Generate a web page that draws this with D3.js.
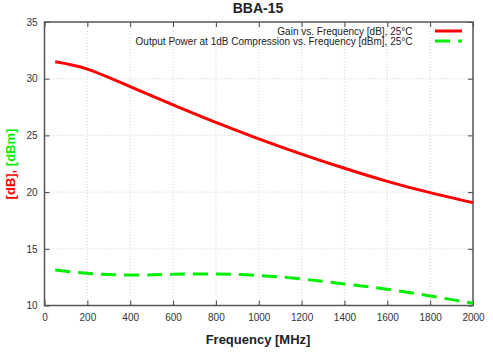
<!DOCTYPE html>
<html>
<head>
<meta charset="utf-8">
<script src="https://cdn.jsdelivr.net/npm/d3@7"></script>
<style>
  body { margin: 0; background: #fff; }
  svg { display: block; }
</style>
</head>
<body>
<div id="chart"></div>
<script>
// data
var freq = [50, 200, 400, 600, 800, 1000, 1200, 1400, 1600, 1800, 2000];
var gain = [31.5, 30.85, 29.3, 27.7, 26.15, 24.7, 23.35, 22.1, 20.95, 19.95, 19.07];
var p1db = [13.13, 12.84, 12.68, 12.75, 12.78, 12.65, 12.34, 11.9, 11.43, 10.84, 10.2];
var xTicks = [0, 200, 400, 600, 800, 1000, 1200, 1400, 1600, 1800, 2000];
var yTicks = [10, 15, 20, 25, 30, 35];
var legendLabels = ["Gain vs. Frequency [dB], 25\u00b0C",
  "Output Power at 1dB Compression vs. Frequency [dBm], 25\u00b0C"];

var W = 493, H = 352;
var margin = { top: 22, right: 20, bottom: 46.5, left: 44.5 };
var width = W - margin.left - margin.right,
  height = H - margin.top - margin.bottom;

var svg = d3.select("#chart").append("svg")
  .attr("width", W)
  .attr("height", H)
  .style("font-family", "'Liberation Sans', Arial, sans-serif");

var g = svg.append("g")
  .attr("transform", "translate(" + margin.left + "," + margin.top + ")");

var x = d3.scaleLinear().domain([0, 2000]).range([0, width]);
var y = d3.scaleLinear().domain([10, 35]).range([height, 0]);

// grid
g.append("g").selectAll("line").data(xTicks.slice(1, -1)).enter().append("line")
  .attr("x1", d => x(d)).attr("x2", d => x(d))
  .attr("y1", 0).attr("y2", height)
  .attr("stroke", "#c8c8c8").attr("stroke-width", 0.8).attr("stroke-dasharray", "1,2");
g.append("g").selectAll("line").data(yTicks.slice(1, -1)).enter().append("line")
  .attr("y1", d => y(d)).attr("y2", d => y(d))
  .attr("x1", 0).attr("x2", width)
  .attr("stroke", "#c8c8c8").attr("stroke-width", 0.8).attr("stroke-dasharray", "1,2");

// axes, ticks pointing inward
var xAxis = d3.axisBottom(x).tickValues(xTicks).tickSize(-5).tickPadding(8)
  .tickFormat(d3.format("d"));
var yAxis = d3.axisLeft(y).tickValues(yTicks).tickSize(-5).tickPadding(7);

g.append("g").attr("transform", "translate(0," + height + ")").call(xAxis);
g.append("g").call(yAxis);
g.append("g").call(d3.axisTop(x).tickValues(xTicks).tickSize(-5).tickFormat(""));
g.append("g").attr("transform", "translate(" + width + ",0)")
  .call(d3.axisRight(y).tickValues(yTicks).tickSize(-5).tickFormat(""));

g.selectAll(".domain").remove();
g.selectAll(".tick line").attr("stroke", "#444").attr("stroke-width", 1);
g.selectAll(".tick text").attr("fill", "#333").attr("font-size", 10)
  .style("font-family", "'Liberation Sans', Arial, sans-serif");

g.append("rect")
  .attr("width", width).attr("height", height)
  .attr("fill", "none").attr("stroke", "#555").attr("stroke-width", 1.5);

// curves
var line = d3.line().curve(d3.curveNatural);

g.append("path")
  .datum(freq.map((f, i) => [x(f), y(gain[i])]))
  .attr("d", line)
  .attr("fill", "none").attr("stroke", "#ff0000").attr("stroke-width", 3);

g.append("path")
  .datum(freq.map((f, i) => [x(f), y(p1db[i])]))
  .attr("d", line)
  .attr("fill", "none").attr("stroke", "#00ee00").attr("stroke-width", 3)
  .attr("stroke-dasharray", "15,8");

// legend
var leg = g.append("g");
legendLabels.forEach(function (t, i) {
  var ly = 9 + i * 10;
  leg.append("text")
    .attr("x", 368).attr("y", ly + 3.5)
    .attr("text-anchor", "end").attr("font-size", 10).attr("fill", "#222")
    .text(t);
  leg.append("line")
    .attr("x1", 390.5).attr("x2", 417.5).attr("y1", ly).attr("y2", ly)
    .attr("stroke", i == 0 ? "#ff0000" : "#00ee00").attr("stroke-width", 3)
    .attr("stroke-dasharray", i == 0 ? null : "15,8");
});

// titles
svg.append("text")
  .attr("x", 258).attr("y", 13)
  .attr("text-anchor", "middle").attr("font-size", 14).attr("font-weight", "bold")
  .attr("fill", "#222")
  .text("BBA-15");

svg.append("text")
  .attr("x", 258).attr("y", 344)
  .attr("text-anchor", "middle").attr("font-size", 13).attr("font-weight", "bold")
  .attr("fill", "#222")
  .text("Frequency [MHz]");

var yl = svg.append("text")
  .attr("transform", "translate(15,164) rotate(-90)")
  .attr("text-anchor", "middle").attr("font-size", 13).attr("font-weight", "bold");
yl.append("tspan").attr("fill", "#ff0000").text("[dB], ");
yl.append("tspan").attr("fill", "#00ee00").text("[dBm]");
</script>
</body>
</html>
